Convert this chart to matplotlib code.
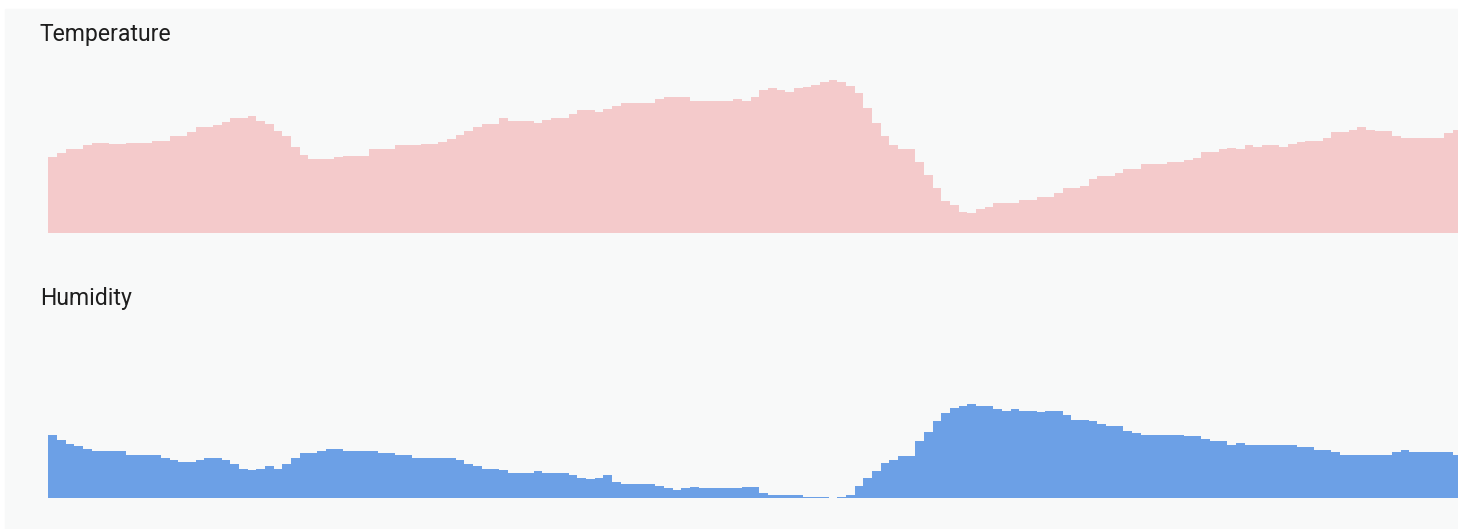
import numpy as np
import matplotlib.pyplot as plt
from matplotlib.patches import Rectangle

plt.rcParams['font.family'] = ['Roboto', 'DejaVu Sans']

# readings per time step (one bar per step)
temperature = [76, 80, 84, 84, 88, 90, 90, 89, 89, 90, 90, 90, 92, 92, 97, 97, 101, 106, 106, 108,
               111, 115, 115, 117, 112, 109, 102, 97, 86, 78, 74, 74, 74, 76, 77, 77, 77, 84, 84, 84,
               88, 88, 88, 89, 89, 91, 94, 98, 102, 106, 109, 109,
               115, 112, 112, 112, 110, 113, 115, 115, 119, 123, 123, 121, 124, 127, 130, 130, 130, 130,
               134, 136, 136, 136, 132, 132, 132, 132, 132, 134, 132, 136, 143, 145, 143, 141, 145, 146,
               148, 151, 153, 151, 147, 140, 125, 110, 97, 88, 84, 84, 71, 58, 45, 32, 28, 21, 20,
               24, 26, 30, 30, 30, 33, 33, 36, 36, 40, 45, 45, 47, 54, 57, 57, 60, 64, 64, 69,
               69, 69, 71, 71, 73, 75, 81, 81, 84, 85, 84, 88, 86, 88, 88, 86, 89, 91, 92, 92,
               95, 101, 101, 103, 106, 103, 102, 102, 97, 95, 95, 95, 95, 95, 100, 103]

humidity = [63, 58, 54, 52, 49, 47, 47, 47, 47, 43, 43, 43, 43, 40, 38, 36, 36, 38, 40, 40,
            38, 34, 29, 28, 29, 32, 29, 34, 40, 45, 45, 47, 49, 49, 47, 47, 47, 47, 45, 45,
            43, 43, 40, 40, 40, 40, 40, 38, 34, 32, 29, 29,
            28, 25, 25, 25, 27, 25, 25, 25, 23, 20, 19, 20, 23, 16, 14, 14, 14, 14, 12, 10, 8, 10,
            11, 10, 10, 10, 10, 10, 11, 11, 5, 3, 3, 3, 3, 1, 1, 1, 0, 1, 3, 12, 20, 27, 35, 38,
            42, 42, 57, 66, 77, 85, 90, 92, 94,
            92, 92, 89, 87, 89, 87, 87, 86, 87, 87, 83, 78, 78, 77, 74, 72, 72, 67, 65, 63,
            63, 63, 63, 63, 62, 62, 59, 57, 57, 53, 55, 53, 53, 53, 53, 53, 53, 51, 51, 48,
            48, 46, 43, 43, 43, 43, 43, 43, 46, 48, 46, 46, 46, 46, 46, 43]

titles = ["Temperature", "Humidity"]
colors = ["#f4cacb", "#6ca0e6"]

W, H = 1458, 529
fig = plt.figure(figsize=(W / 100, H / 100), dpi=100, facecolor="white")
# light grey card behind both panels
fig.patches.append(Rectangle((5 / W, 0), 1, (H - 9) / H, transform=fig.transFigure,
                             color="#f8f9f9", zorder=-10))

step_px = 8.67
left = 48.3
n_visible = (W - left) / step_px

panels = [(temperature, 233, 41), (humidity, 497.5, 305)]
for (values, base_y, title_y), title, color in zip(panels, titles, colors):
    ax = fig.add_axes([left / W, (H - base_y) / H, (W - left) / W, 165 / H])
    x = np.arange(len(values) + 1)
    y = values + [values[-1]]
    ax.fill_between(x, y, step="post", color=color, linewidth=0)
    ax.set_xlim(0, n_visible)
    ax.set_ylim(0, 165)
    ax.axis("off")
    fig.text(40 / W, (H - title_y) / H, title, fontsize=16.6, color="#1e1e1e", va="baseline")

plt.savefig("out.png", dpi=100, facecolor=fig.get_facecolor())
